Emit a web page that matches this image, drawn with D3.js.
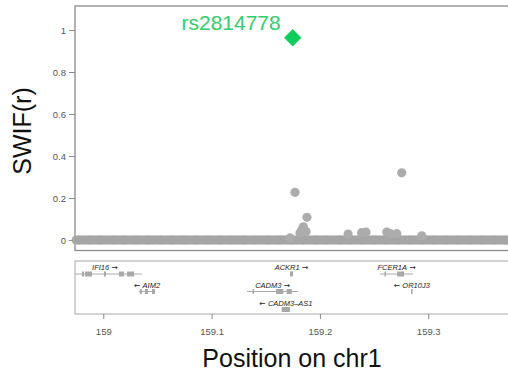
<!DOCTYPE html>
<html>
<head>
<meta charset="utf-8">
<script src="https://cdn.jsdelivr.net/npm/d3@7"></script>
<style>
body { margin: 0; background: #fff; }
svg { display: block; font-family: "Liberation Sans", Arial, Helvetica, sans-serif; }
.axis text { fill: #555; font-size: 9.5px; }
.axis line { stroke: #8a8a8a; }
.axis path { display: none; }
.arrow { font-family: "DejaVu Sans", sans-serif; }
</style>
</head>
<body>
<script>
// SNPs that rise above the background (position in Mb, SWIF(r))
var snpPos  = [159.1724, 159.1770, 159.1816, 159.1832, 159.1847, 159.1872, 159.1880,
               159.2260, 159.2385, 159.2425, 159.2617, 159.2650, 159.2710, 159.2755, 159.2940];
var snpSwif = [0.010, 0.227, 0.033, 0.048, 0.063, 0.040, 0.108,
               0.028, 0.035, 0.038, 0.038, 0.030, 0.030, 0.320, 0.020];

// background SNPs, SWIF(r) = 0
var flatPos = [
    158.975, 158.977, 158.978, 158.980, 158.982, 158.984, 158.986, 158.987, 158.989, 158.991,
    158.993, 158.995, 158.997, 158.998, 159.000, 159.002, 159.004, 159.006, 159.008, 159.009,
    159.011, 159.013, 159.015, 159.017, 159.019, 159.020, 159.022, 159.024, 159.026, 159.028,
    159.030, 159.031, 159.033, 159.035, 159.037, 159.039, 159.041, 159.042, 159.044, 159.046,
    159.048, 159.050, 159.052, 159.053, 159.055, 159.057, 159.059, 159.061, 159.063, 159.064,
    159.066, 159.068, 159.070, 159.072, 159.074, 159.075, 159.077, 159.079, 159.081, 159.083,
    159.085, 159.086, 159.088, 159.090, 159.092, 159.094, 159.096, 159.097, 159.099, 159.101,
    159.103, 159.105, 159.107, 159.108, 159.110, 159.112, 159.114, 159.116, 159.118, 159.119,
    159.121, 159.123, 159.125, 159.127, 159.129, 159.130, 159.132, 159.134, 159.136, 159.138,
    159.140, 159.141, 159.143, 159.145, 159.147, 159.149, 159.151, 159.152, 159.154, 159.156,
    159.158, 159.160, 159.162, 159.163, 159.165, 159.167, 159.169, 159.171, 159.173, 159.174,
    159.176, 159.178, 159.180, 159.182, 159.184, 159.185, 159.187, 159.189, 159.191, 159.193,
    159.195, 159.196, 159.198, 159.200, 159.202, 159.204, 159.206, 159.207, 159.209, 159.211,
    159.213, 159.215, 159.217, 159.218, 159.220, 159.222, 159.224, 159.226, 159.228, 159.229,
    159.231, 159.233, 159.235, 159.237, 159.239, 159.240, 159.242, 159.244, 159.246, 159.248,
    159.250, 159.251, 159.253, 159.255, 159.257, 159.259, 159.261, 159.262, 159.264, 159.266,
    159.268, 159.270, 159.272, 159.273, 159.275, 159.277, 159.279, 159.281, 159.283, 159.284,
    159.286, 159.288, 159.290, 159.292, 159.294, 159.295, 159.297, 159.299, 159.301, 159.303,
    159.305, 159.306, 159.308, 159.310, 159.312, 159.314, 159.316, 159.317, 159.319, 159.321,
    159.323, 159.325, 159.327, 159.328, 159.330, 159.332, 159.334, 159.336, 159.338, 159.339,
    159.341, 159.343, 159.345, 159.347, 159.349, 159.350, 159.352, 159.354, 159.356, 159.358,
    159.360, 159.361, 159.363, 159.365, 159.367, 159.369, 159.371, 159.372, 159.374, 159.376,
    159.378, 159.380, 159.382];

var topName = "rs2814778", topPos = 159.1749, topSwif = 0.963;

var yTicks = [0, 0.2, 0.4, 0.6, 0.8, 1];
var xTicks = [159, 159.1, 159.2, 159.3];

// genes
var geneNames  = ["IFI16", "AIM2", "ACKR1", "CADM3", "CADM3\u2013AS1", "FCER1A", "OR10J3"];
var geneStrand = ["+", "-", "+", "+", "-", "+", "-"];
var geneRow    = [0, 1, 0, 1, 2, 0, 1];
var geneStart  = [158.9674, 159.0327, 159.1724, 159.1327, 159.1647, 159.2555, 159.2841];
var geneEnd    = [159.0357, 159.0480, 159.1752, 159.1800, 159.1724, 159.2860, 159.2855];
var geneExons  = [
    [[158.9803, 158.9822], [158.9831, 158.9896], [159.0006, 159.0025], [159.0145, 159.0191], [159.0219, 159.0283]],
    [[159.0339, 159.0357], [159.0385, 159.0413], [159.0450, 159.0477]],
    [[159.1724, 159.1752]],
    [[159.1378, 159.1392], [159.1595, 159.1662], [159.1693, 159.1740]],
    [[159.1647, 159.1724]],
    [[159.2596, 159.2610], [159.2712, 159.2777]],
    [[159.2841, 159.2855]]
];

var W = 508, H = 375;
var left = 75, right = 512, mainTop = 6, mainBottom = 250.5, geneTop = 261, geneBottom = 314;
var rowY = [274, 291.5, 309.5];

var xScale = d3.scaleLinear().domain([158.9739, 159.3773]).range([left, right]),
    yScale = d3.scaleLinear().domain([0, 1]).range([240, 30]);

var svg = d3.select("body").append("svg")
    .attr("width", W)
    .attr("height", H);

// panel frames
svg.append("rect")
    .attr("x", left).attr("y", mainTop)
    .attr("width", right - left + 20).attr("height", mainBottom - mainTop)
    .attr("fill", "none").attr("stroke", "#8a8a8a").attr("stroke-width", 1.3);

svg.append("rect")
    .attr("x", left).attr("y", geneTop)
    .attr("width", right - left + 20).attr("height", geneBottom - geneTop)
    .attr("fill", "none").attr("stroke", "#a8a8a8").attr("stroke-width", 1);

svg.append("g")
    .attr("class", "y axis")
    .attr("transform", "translate(" + left + ",0)")
    .call(d3.axisLeft(yScale).tickValues(yTicks).tickSize(6).tickPadding(3)
          .tickFormat(function(d){ return d3.format("~g")(d); }));

svg.append("g")
    .attr("class", "x axis")
    .attr("transform", "translate(0," + geneBottom + ")")
    .call(d3.axisBottom(xScale).tickValues(xTicks).tickSize(5).tickPadding(9)
          .tickFormat(function(d){ return d3.format("~g")(d); }));

// points
var r = 4.6;
svg.selectAll(".flat")
  .data(flatPos)
  .enter().append("circle")
    .attr("class", "flat")
    .attr("cx", function(d){ return xScale(d); })
    .attr("cy", yScale(0))
    .attr("r", r)
    .attr("fill", "#a6a6a6");

svg.selectAll(".snp")
  .data(snpPos)
  .enter().append("circle")
    .attr("class", "snp")
    .attr("cx", function(d){ return xScale(d); })
    .attr("cy", function(d, i){ return yScale(snpSwif[i]); })
    .attr("r", r)
    .attr("fill", "#acacac");

// lead SNP
svg.append("path")
    .attr("d", d3.symbol().type(d3.symbolSquare).size(150))
    .attr("transform", "translate(" + xScale(topPos) + "," + yScale(topSwif) + ") rotate(45)")
    .attr("fill", "#0fcd5a");

svg.append("text")
    .attr("x", xScale(topPos) - 12)
    .attr("y", yScale(topSwif) - 7.7)
    .attr("text-anchor", "end")
    .attr("font-size", "21px")
    .attr("fill", "#34cb6c")
    .text(topName);

// gene track
svg.append("clipPath").attr("id", "geneclip")
  .append("rect")
    .attr("x", left).attr("y", geneTop)
    .attr("width", right - left).attr("height", geneBottom - geneTop);

var genes = svg.append("g").attr("clip-path", "url(#geneclip)");

geneNames.forEach(function(name, i){
    var y0 = rowY[geneRow[i]];
    var g = genes.append("g");
    if (geneExons[i].length > 1) {
        g.append("line")
            .attr("x1", xScale(geneStart[i])).attr("x2", xScale(geneEnd[i]))
            .attr("y1", y0).attr("y2", y0)
            .attr("stroke", "#aaa").attr("stroke-width", 1);
    }
    g.selectAll("rect")
      .data(geneExons[i])
      .enter().append("rect")
        .attr("x", function(d){ return xScale(d[0]); })
        .attr("width", function(d){ return Math.max(1.5, xScale(d[1]) - xScale(d[0])); })
        .attr("y", y0 - 2.5)
        .attr("height", 5)
        .attr("fill", "#a8a8a8");

    var label = g.append("text")
        .attr("x", (xScale(geneStart[i]) + xScale(geneEnd[i])) / 2)
        .attr("y", y0 - 4)
        .attr("text-anchor", "middle")
        .attr("font-size", "7.5px")
        .attr("fill", "#222");
    if (geneStrand[i] == "-") label.append("tspan").attr("class", "arrow").text("\u2190 ");
    label.append("tspan").attr("font-style", "italic").text(name);
    if (geneStrand[i] == "+") label.append("tspan").attr("class", "arrow").text(" \u2192");
});

// axis titles
svg.append("text")
    .attr("transform", "translate(31,131) rotate(-90)")
    .attr("text-anchor", "middle")
    .attr("font-size", "25px")
    .attr("fill", "#111")
    .text("SWIF(r)");

svg.append("text")
    .attr("x", 292)
    .attr("y", 367)
    .attr("text-anchor", "middle")
    .attr("font-size", "25px")
    .attr("fill", "#111")
    .text("Position on chr1");
</script>
</body>
</html>
